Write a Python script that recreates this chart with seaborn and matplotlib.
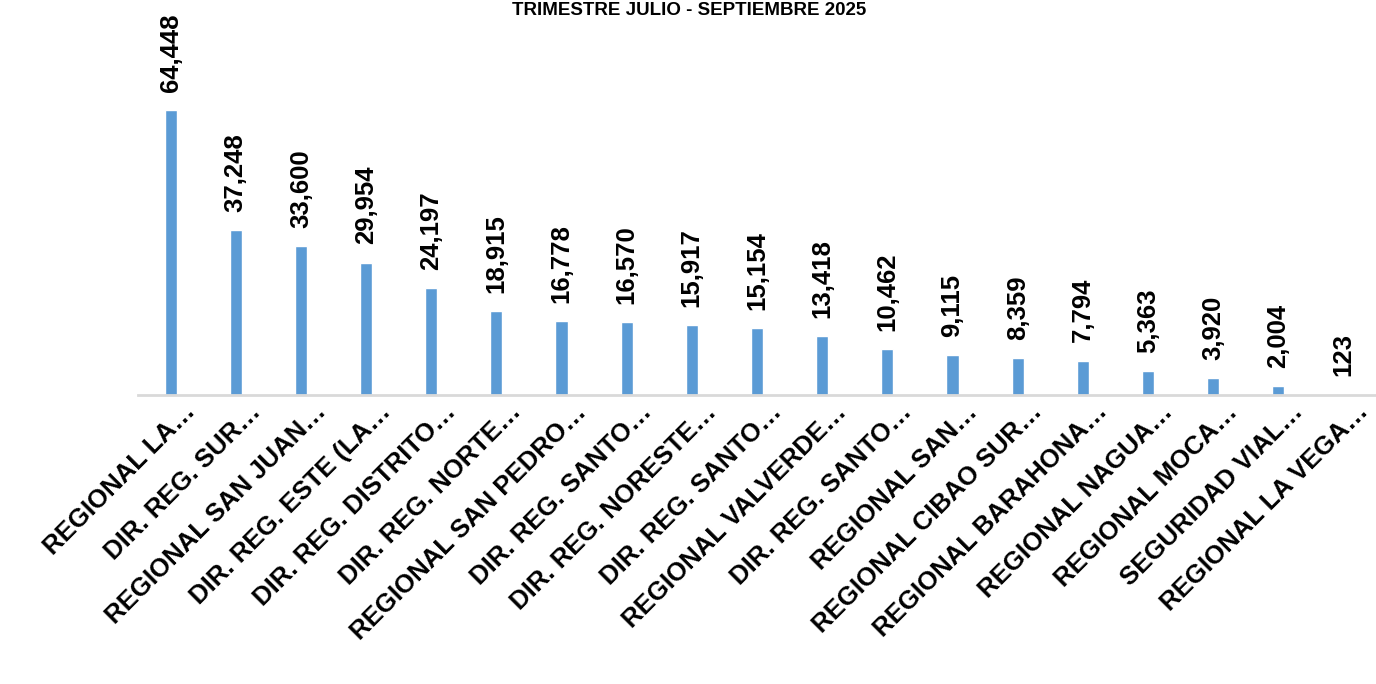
import matplotlib
matplotlib.use("Agg")
import matplotlib.pyplot as plt
import matplotlib.transforms as mtransforms
import seaborn as sns
import numpy as np
import pandas as pd

categories = [
    "REGIONAL LA…", "DIR. REG. SUR…", "REGIONAL SAN JUAN…", "DIR. REG. ESTE (LA…",
    "DIR. REG. DISTRITO…", "DIR. REG. NORTE…", "REGIONAL SAN PEDRO…", "DIR. REG. SANTO…",
    "DIR. REG. NORESTE…", "DIR. REG. SANTO…", "REGIONAL VALVERDE…", "DIR. REG. SANTO…",
    "REGIONAL SAN…", "REGIONAL CIBAO SUR…", "REGIONAL BARAHONA…", "REGIONAL NAGUA…",
    "REGIONAL MOCA…", "SEGURIDAD VIAL…", "REGIONAL LA VEGA…",
]
values = [64448, 37248, 33600, 29954, 24197, 18915, 16778, 16570, 15917, 15154,
          13418, 10462, 9115, 8359, 7794, 5363, 3920, 2004, 123]
title = "TRIMESTRE JULIO - SEPTIEMBRE 2025"

sns.set_theme(style="white")
plt.rcParams['font.family'] = ['Liberation Sans', 'DejaVu Sans']

W, H = 1376, 684
fig = plt.figure(figsize=(W / 100, H / 100), dpi=100)
ax_left, ax_right = 138, 1376
ax_bottom = 395
ymax = 70000
ax_h = 285 * ymax / 64448
ax = fig.add_axes([ax_left / W, (H - ax_bottom) / H, (ax_right - ax_left) / W, ax_h / H])

df = pd.DataFrame({"pos": np.arange(len(values)), "value": values})
sns.barplot(data=df, x="pos", y="value", ax=ax, color="#5B9BD5", saturation=1,
            width=0.185, errorbar=None)

ax.set_ylim(0, ymax)
ax.set_xlim(-0.5, len(values) - 0.5)
ax.set_xlabel("")
ax.set_ylabel("")
ax.set_yticks([])
for s in ["top", "right", "left"]:
    ax.spines[s].set_visible(False)
ax.spines["bottom"].set_color("#D9D9D9")
ax.spines["bottom"].set_linewidth(2)
ax.tick_params(axis="x", length=0, pad=0)

ax.set_xticks(np.arange(len(categories)))
ax.set_xticklabels(categories, rotation=45, ha="right", va="center",
                   rotation_mode="anchor", fontsize=18.5, fontweight="bold", color="black")
offset = mtransforms.ScaledTranslation(0.21, -0.13, fig.dpi_scale_trans)
for lbl in ax.get_xticklabels():
    lbl.set_transform(lbl.get_transform() + offset)

for i, v in enumerate(values):
    ax.annotate(f"{v:,}", xy=(i, v), xytext=(0, 13), textcoords="offset points",
                rotation=90, ha="center", va="bottom", fontsize=18.5,
                fontweight="bold", color="black", annotation_clip=False)

fig.text(689 / W, 1 - 15 / H, title, ha="center", va="baseline",
         fontsize=13.5, fontweight="bold", color="black")

fig.savefig("out.png", dpi=100, facecolor="white")
